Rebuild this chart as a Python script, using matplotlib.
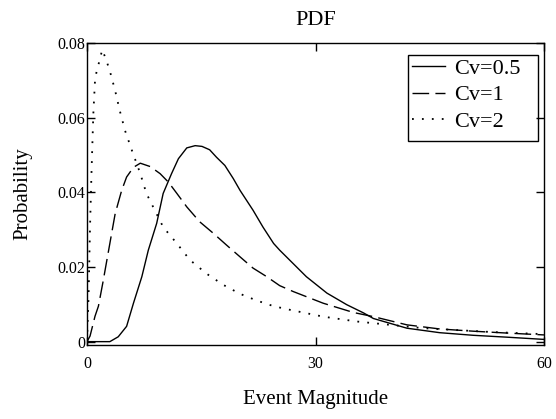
import numpy as np
import matplotlib
matplotlib.use('Agg')
import matplotlib.pyplot as plt
from matplotlib.patches import Rectangle

plt.rcParams['font.family'] = ['Liberation Serif', 'DejaVu Serif']

# 读出的曲线数据 (Event Magnitude, Probability)
x_cv05 = [0, 2, 3.0, 4.1, 5.2, 6.1, 7.2, 8.05, 9.15, 10.0, 11.1, 12.0, 13.1, 14.2,
          15.1, 16.1, 17.0, 18.1, 19.2, 20.1, 21.8, 23.1, 24.5, 25.3, 28.8, 31.5,
          34.1, 36.3, 37.6, 42.0, 46.3, 50.7, 55.1, 60]
y_cv05 = [0, 0, 0, 0.0013, 0.0041, 0.0103, 0.0174, 0.0245, 0.0317, 0.0397, 0.045,
          0.049, 0.0519, 0.0525, 0.0523, 0.0514, 0.0494, 0.0472, 0.0437, 0.0405,
          0.0352, 0.0307, 0.0263, 0.0245, 0.0174, 0.013, 0.0099, 0.0077, 0.0062,
          0.0036, 0.0024, 0.0017, 0.0012, 0.0006]

x_cv1 = [0, 0.4, 0.83, 1.05, 1.5, 2.1, 3.0, 3.7, 4.55, 5.2, 6.1, 7.0, 8.3, 9.6,
         10.7, 11.8, 13.1, 14.8, 16.6, 18.3, 20.1, 21.8, 23.6, 25.3, 27.1, 31.0,
         35.0, 37.6, 42.0, 46.3, 50.7, 55.1, 60]
y_cv1 = [0, 0.0015, 0.005, 0.0068, 0.0095, 0.016, 0.0263, 0.0343, 0.0405, 0.0441,
         0.0467, 0.0478, 0.0469, 0.045, 0.0427, 0.0397, 0.0361, 0.0321, 0.029,
         0.0259, 0.0227, 0.0197, 0.0174, 0.015, 0.0134, 0.0103, 0.0078, 0.0067,
         0.0045, 0.0034, 0.0028, 0.0023, 0.0018]

x_cv2 = [0, 0.2, 0.4, 0.6, 0.83, 1.05, 1.27, 1.58, 2.0, 2.5, 3.0, 3.7, 4.3, 5.0,
         5.9, 7.0, 7.8, 8.9, 10.0, 11.8, 13.5, 15.7, 17.9, 20.1, 22.3, 24.5,
         26.7, 31.0, 35.4, 39.8, 44.2, 48.5, 52.9, 60]
y_cv2 = [0, 0.012, 0.031, 0.046, 0.061, 0.0699, 0.0725, 0.0748, 0.0782, 0.0756,
         0.0725, 0.0672, 0.0619, 0.0565, 0.0512, 0.045, 0.0397, 0.0352, 0.0307,
         0.0263, 0.0219, 0.0182, 0.0152, 0.0128, 0.011, 0.0095, 0.0085, 0.0067,
         0.0054, 0.0045, 0.0036, 0.0031, 0.0026, 0.002]

labels = ['Cv=0.5', 'Cv=1', 'Cv=2']

fig = plt.figure(figsize=(5.56, 4.19), dpi=100)
ax = fig.add_axes([87 / 556, 1 - 345 / 419, 457 / 556, 302 / 419])

ax.plot(x_cv05, y_cv05, color='black', lw=1.0, ls='-', label=labels[0])
ax.plot(x_cv1, y_cv1, color='black', lw=1.0, ls=(0, (12, 4.5)), label=labels[1])
ax.plot(x_cv2, y_cv2, color='black', lw=1.3, ls=(0, (1, 4.5)), label=labels[2])

ax.set_xlim(0, 60)
ax.set_ylim(-0.0009, 0.08)
ax.set_xticks([0, 30, 60])
ax.set_xticklabels(['0', '30', '60'])
ax.set_yticks([0, 0.02, 0.04, 0.06, 0.08])
ax.set_yticklabels(['0', '0.02', '0.04', '0.06', '0.08'])
ax.tick_params(direction='in', length=6, width=1, top=True, right=True,
               labelsize=11.5, colors='black')
ax.tick_params(axis='y', pad=1.5)
ax.tick_params(axis='x', pad=8)
for s in ax.spines.values():
    s.set_linewidth(1.0)

ax.set_title('PDF', fontsize=16, pad=13)
ax.set_xlabel('Event Magnitude', fontsize=15, labelpad=13)
ax.set_ylabel('Probability', fontsize=15, labelpad=18)

# 图例：文字和线，外框单独画
leg = ax.legend(loc='upper left', bbox_to_anchor=(0.7112, 0.95), borderaxespad=0,
                fontsize=16, frameon=False, handlelength=1.5, handletextpad=0.38,
                borderpad=0, labelspacing=0.28)
ax.add_patch(Rectangle((0.7024, 0.6766), 0.2845, 0.2838, transform=ax.transAxes,
                       fill=False, edgecolor='black', lw=1.0, zorder=5))

plt.savefig('out.png', dpi=100)
